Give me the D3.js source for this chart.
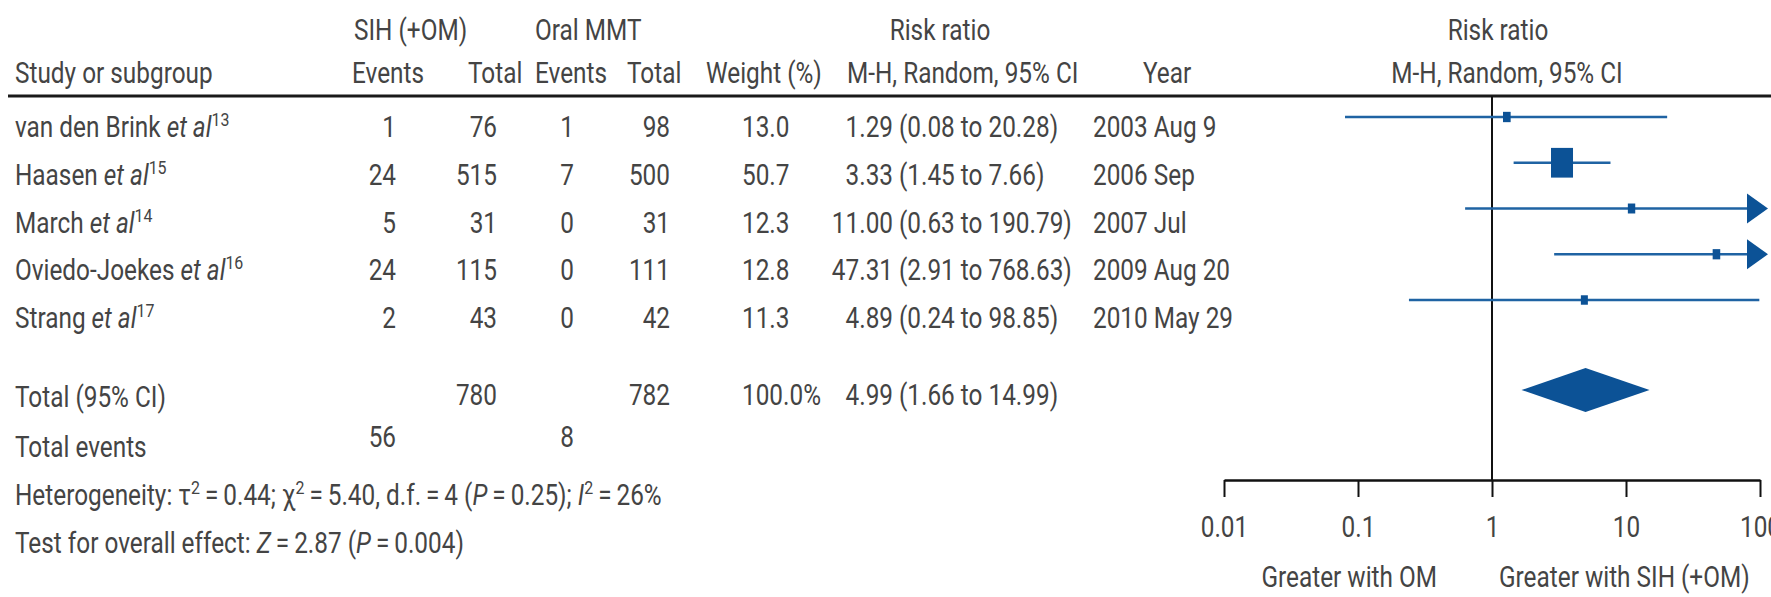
<!DOCTYPE html>
<html>
<head>
<meta charset="utf-8">
<script src="https://cdn.jsdelivr.net/npm/d3@7"></script>
<style>
  html, body { margin: 0; padding: 0; background: #fff; }
  svg text { font-family: Roboto, "Open Sans", sans-serif; font-size: 29px; font-weight: 400; fill: #444; }
</style>
</head>
<body>
<svg id="chart" width="1771" height="597"></svg>
<script>
// ---- data ----
const studies   = ["van den Brink", "Haasen", "March", "Oviedo-Joekes", "Strang"];
const refs      = ["13", "15", "14", "16", "17"];
const sihEvents = [1, 24, 5, 24, 2];
const sihTotal  = [76, 515, 31, 115, 43];
const omEvents  = [1, 7, 0, 0, 0];
const omTotal   = [98, 500, 31, 111, 42];
const weights   = [13.0, 50.7, 12.3, 12.8, 11.3];
const rr        = [1.29, 3.33, 11.00, 47.31, 4.89];
const rrLow     = [0.08, 1.45, 0.63, 2.91, 0.24];
const rrHigh    = [20.28, 7.66, 190.79, 768.63, 98.85];
const years     = ["2003 Aug 9", "2006 Sep", "2007 Jul", "2009 Aug 20", "2010 May 29"];

const totalSih = 780, totalOm = 782, eventsSih = 56, eventsOm = 8;
const totalWeight = "100.0%";
const pooled = { rr: 4.99, low: 1.66, high: 14.99 };

const tickValues = [0.01, 0.1, 1, 10, 100];
const tickLabels = ["0.01", "0.1", "1", "10", "100"];

// ---- layout ----
const svg = d3.select("#chart");
const SX = 0.84;               // condensed type
const ink = "#111";
const blue = "#0c5296";
const blueLine = "#1f63a3";

const yText = d3.scalePoint().domain(studies).range([137, 328]);
const yMark = d3.scalePoint().domain(studies).range([117, 300]);
const x = d3.scaleLog().domain([0.01, 100]).range([1224, 1760]);
const boxSize = d3.scaleLinear().domain([11.3, 50.7]).range([7, 22]);

const fmt2 = d3.format(".2f");
const fmt1 = d3.format(".1f");

function label(xp, yp, anchor) {
  return svg.append("text")
    .attr("transform", `translate(${xp},${yp}) scale(${SX},1)`)
    .attr("text-anchor", anchor || "start");
}
function put(xp, yp, str, anchor) { return label(xp, yp, anchor).text(str); }

const col = { study: 15, sihEv: 396, sihTot: 497, omEv: 574, omTot: 670,
              weight: 742, est: 893, ci: 899, year: 1093 };

// ---- header ----
const h1 = 40, h2 = 83;
put(354, h1, "SIH (+OM)");
put(535, h1, "Oral MMT");
put(940, h1, "Risk ratio", "middle");
put(1498, h1, "Risk ratio", "middle");

put(col.study, h2, "Study or subgroup");
put(352, h2, "Events");
put(468, h2, "Total");
put(535, h2, "Events");
put(627, h2, "Total");
put(706, h2, "Weight (%)");
put(847, h2, "M-H, Random, 95% CI");
put(1143, h2, "Year");
put(1507, h2, "M-H, Random, 95% CI", "middle");

svg.append("line")
  .attr("x1", 8).attr("x2", 1771).attr("y1", 96).attr("y2", 96)
  .attr("stroke", "#1a1a1a").attr("stroke-width", 3);

// ---- study rows ----
studies.forEach((s, i) => {
  const yb = yText(s);
  const t = label(col.study, yb);
  t.append("tspan").text(s + " ");
  t.append("tspan").attr("font-style", "italic").text("et al");
  t.append("tspan").attr("font-size", 19).attr("dy", -11).text(refs[i]);

  put(col.sihEv, yb, sihEvents[i], "end");
  put(col.sihTot, yb, sihTotal[i], "end");
  put(col.omEv, yb, omEvents[i], "end");
  put(col.omTot, yb, omTotal[i], "end");
  put(col.weight, yb, fmt1(weights[i]));
  put(col.est, yb, fmt2(rr[i]), "end");
  put(col.ci, yb, `(${fmt2(rrLow[i])} to ${fmt2(rrHigh[i])})`);
  put(col.year, yb, years[i]);
});

// ---- totals ----
const yTot = 407, yEv = 447;
put(col.study, yTot, "Total (95% CI)");
put(col.sihTot, yTot - 2, totalSih, "end");
put(col.omTot, yTot - 2, totalOm, "end");
put(col.weight, yTot - 2, totalWeight);
put(col.est, yTot - 2, fmt2(pooled.rr), "end");
put(col.ci, yTot - 2, `(${fmt2(pooled.low)} to ${fmt2(pooled.high)})`);

put(col.study, 457, "Total events");
put(col.sihEv, yEv, eventsSih, "end");
put(col.omEv, yEv, eventsOm, "end");

// heterogeneity line
{
  const t = label(col.study, 505);
  const sup = (txt) => t.append("tspan").attr("font-size", 19).attr("dy", -11).text(txt);
  const back = (txt) => t.append("tspan").attr("dy", 11).text(txt);
  t.append("tspan").text("Heterogeneity: \u03c4");
  sup("2");
  back("\u2009=\u20090.44; \u03c7");
  sup("2");
  back("\u2009=\u20095.40, d.f.\u2009=\u20094 (");
  t.append("tspan").attr("font-style", "italic").text("P");
  t.append("tspan").text("\u2009=\u20090.25); ");
  t.append("tspan").attr("font-style", "italic").text("I");
  sup("2");
  back("\u2009=\u200926%");
}
{
  const t = label(col.study, 553);
  t.append("tspan").text("Test for overall effect: ");
  t.append("tspan").attr("font-style", "italic").text("Z");
  t.append("tspan").text("\u2009=\u20092.87 (");
  t.append("tspan").attr("font-style", "italic").text("P");
  t.append("tspan").text("\u2009=\u20090.004)");
}

// ---- forest plot ----
const axisY = 480;
const plot = svg.append("g");

// line of no effect
plot.append("line")
  .attr("x1", x(1)).attr("x2", x(1)).attr("y1", 96).attr("y2", axisY)
  .attr("stroke", ink).attr("stroke-width", 2);

const arrowBack = 13, arrowTip = 8, arrowHalf = 15;
studies.forEach((s, i) => {
  const cy = yMark(s);
  const clipped = rrHigh[i] > x.domain()[1];
  const xEnd = clipped ? x(x.domain()[1]) - arrowBack : x(rrHigh[i]);
  plot.append("line")
    .attr("x1", x(rrLow[i])).attr("x2", xEnd).attr("y1", cy).attr("y2", cy)
    .attr("stroke", blueLine).attr("stroke-width", 2.6);
  if (clipped) {
    const xb = x(x.domain()[1]) - arrowBack, xt = x(x.domain()[1]) + arrowTip;
    plot.append("path")
      .attr("d", `M${xb},${cy - arrowHalf}L${xt},${cy}L${xb},${cy + arrowHalf}Z`)
      .attr("fill", blue);
  }
  const w = boxSize(weights[i]), h = w * 1.35;
  plot.append("rect")
    .attr("x", x(rr[i]) - w / 2).attr("y", cy - h / 2)
    .attr("width", w).attr("height", h)
    .attr("fill", blue);
});

// pooled diamond
{
  const cy = 390, hh = 22;
  plot.append("path")
    .attr("d", `M${x(pooled.low)},${cy}L${x(pooled.rr)},${cy - hh}L${x(pooled.high)},${cy}L${x(pooled.rr)},${cy + hh}Z`)
    .attr("fill", blue);
}

// axis
const axis = d3.axisBottom(x)
  .tickValues(tickValues)
  .tickFormat((d, i) => tickLabels[i])
  .tickSize(17)
  .tickSizeOuter(0);
const gAxis = svg.append("g").attr("transform", `translate(0,${axisY})`).call(axis);
gAxis.select(".domain").attr("stroke", ink).attr("stroke-width", 2.4);
gAxis.selectAll(".tick line").attr("stroke", ink).attr("stroke-width", 2);
gAxis.selectAll(".tick text")
  .attr("y", 0).attr("dy", 0)
  .attr("transform", `translate(0,57) scale(${SX},1)`)
  .style("font-size", "29px").style("fill", "#444");
gAxis.attr("font-size", null).attr("font-family", null);

put(x(1) - 55, 587, "Greater with OM", "end");
put(x(1) + 7, 587, "Greater with SIH (+OM)");
</script>
</body>
</html>
